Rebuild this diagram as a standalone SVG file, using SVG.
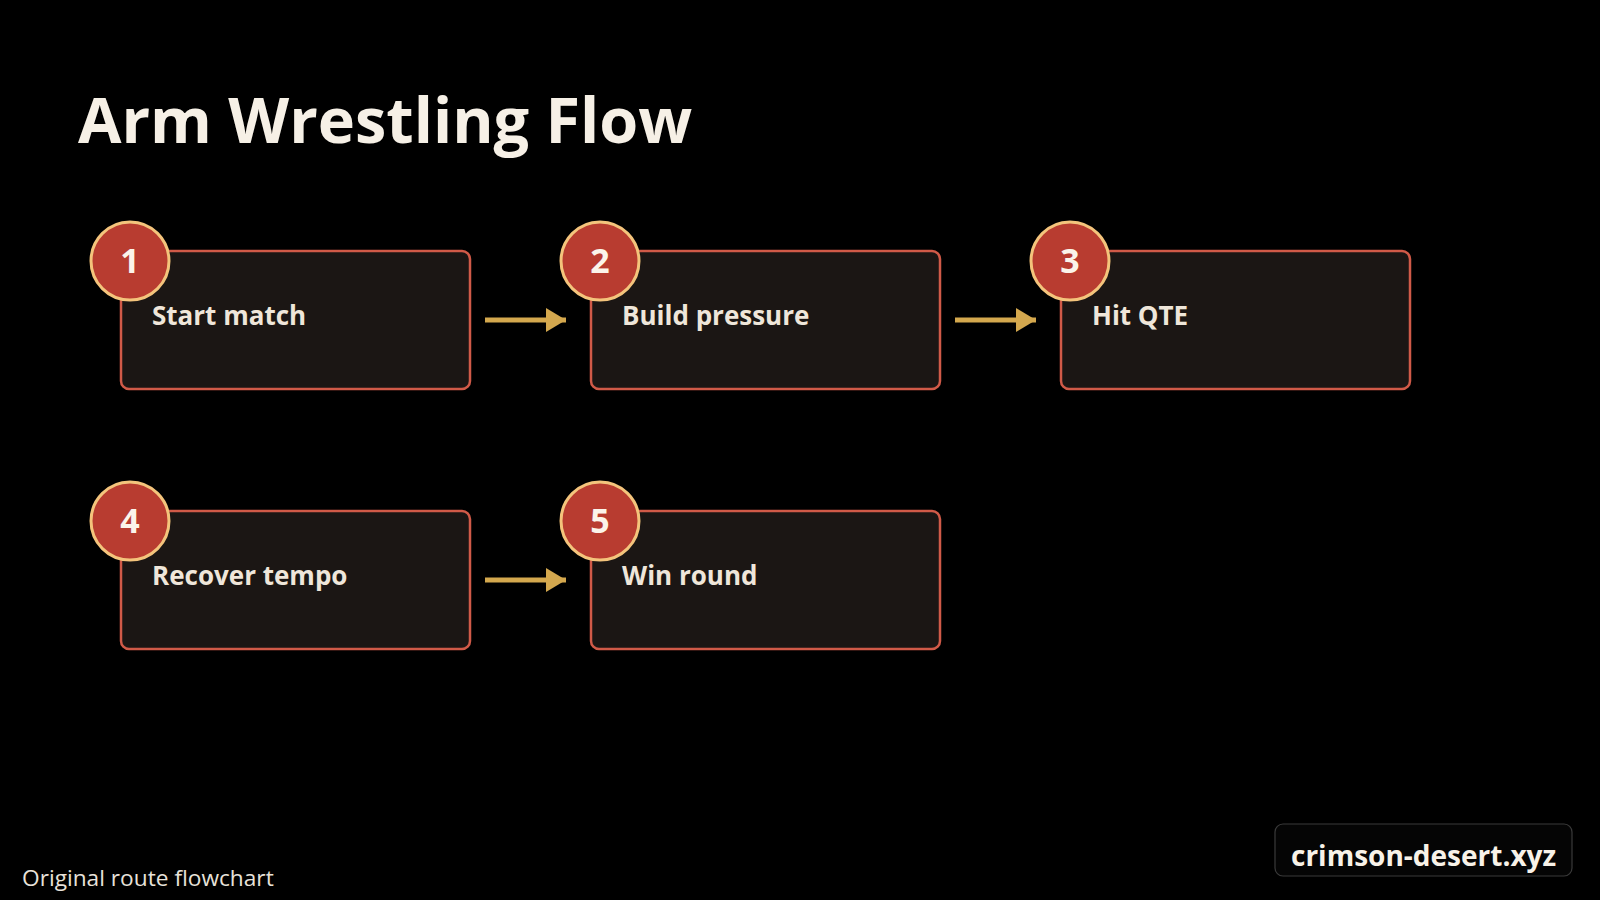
<svg xmlns="http://www.w3.org/2000/svg" width="1600" height="900" viewBox="0 0 1600 900">
<defs>
<style>
.bg{fill:#000}
.title{font-family:"Open Sans","Noto Sans",sans-serif;font-weight:700;font-size:63px;fill:#f6f0e6}
.box{fill:#1b1614;stroke:#d05a48;stroke-width:2.5}
.badge{fill:#b83c30;stroke:#f4c47c;stroke-width:3}
.num{font-family:"Open Sans","Noto Sans",sans-serif;font-weight:700;font-size:34px;fill:#fbf4ea;text-anchor:middle}
.label{font-family:"Open Sans","Noto Sans",sans-serif;font-weight:700;font-size:26px;fill:#efe6da}
.edge{stroke:#d4a84e;stroke-width:5;fill:none}
.foot{font-family:"Open Sans","Noto Sans",sans-serif;font-size:22.7px;fill:#e8e2da}
.wm{fill:#050505;stroke:#3a3a3a;stroke-width:1.2}
.wmt{font-family:"Open Sans","Noto Sans",sans-serif;font-weight:700;font-size:28px;fill:#f8f2e8}
</style>
<marker id="ah" viewBox="0 0 20 24" refX="20" refY="12" markerWidth="20" markerHeight="24" markerUnits="userSpaceOnUse" orient="auto">
<path d="M0,0 L20,12 L0,24 Z" fill="#d4a84e"/>
</marker>
</defs>
<rect class="bg" x="0" y="0" width="1600" height="900"/>
<text class="title" x="78" y="143">Arm Wrestling Flow</text>
<g id="connectors">
<line class="edge" x1="485" y1="320" x2="566" y2="320" marker-end="url(#ah)"/>
<line class="edge" x1="955" y1="320" x2="1036" y2="320" marker-end="url(#ah)"/>
<line class="edge" x1="485" y1="580" x2="566" y2="580" marker-end="url(#ah)"/>
</g>
<g id="node1">
<rect class="box" x="121" y="251" width="349" height="138" rx="8"/>
<circle class="badge" cx="130" cy="261" r="39"/>
<text class="num" x="130" y="273">1</text>
<text class="label" x="152" y="325">Start match</text>
</g>
<g id="node2">
<rect class="box" x="591" y="251" width="349" height="138" rx="8"/>
<circle class="badge" cx="600" cy="261" r="39"/>
<text class="num" x="600" y="273">2</text>
<text class="label" x="622" y="325">Build pressure</text>
</g>
<g id="node3">
<rect class="box" x="1061" y="251" width="349" height="138" rx="8"/>
<circle class="badge" cx="1070" cy="261" r="39"/>
<text class="num" x="1070" y="273">3</text>
<text class="label" x="1092" y="325">Hit QTE</text>
</g>
<g id="node4">
<rect class="box" x="121" y="511" width="349" height="138" rx="8"/>
<circle class="badge" cx="130" cy="521" r="39"/>
<text class="num" x="130" y="533">4</text>
<text class="label" x="152" y="585">Recover tempo</text>
</g>
<g id="node5">
<rect class="box" x="591" y="511" width="349" height="138" rx="8"/>
<circle class="badge" cx="600" cy="521" r="39"/>
<text class="num" x="600" y="533">5</text>
<text class="label" x="622" y="585">Win round</text>
</g>
<text class="foot" x="22" y="886">Original route flowchart</text>
<g id="watermark">
<rect class="wm" x="1275" y="824" width="297" height="52" rx="8"/>
<text class="wmt" x="1291" y="866">crimson-desert.xyz</text>
</g>
</svg>
